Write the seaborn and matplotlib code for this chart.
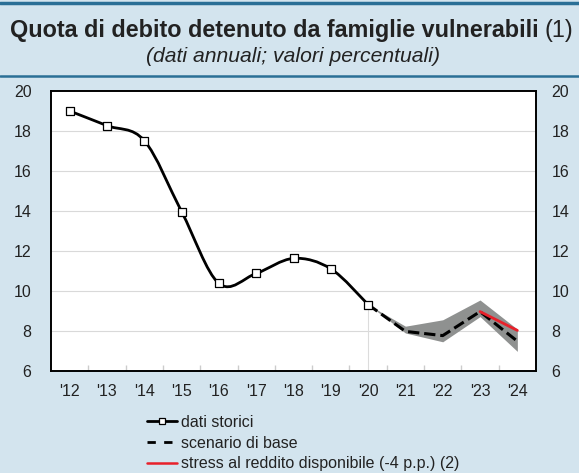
import numpy as np
import pandas as pd
import seaborn as sns
import matplotlib.pyplot as plt
from matplotlib.path import Path
from matplotlib.patches import PathPatch
from matplotlib.lines import Line2D

years = ["'12", "'13", "'14", "'15", "'16", "'17", "'18", "'19", "'20", "'21", "'22", "'23", "'24"]
storici = [19.0, 18.27, 17.52, 13.97, 10.38, 10.88, 11.63, 11.11, 9.32]
base = [9.32, 7.98, 7.77, 8.97, 7.49]
band_low = [9.32, 7.90, 7.46, 8.72, 6.98]
band_high = [9.32, 8.24, 8.56, 9.55, 8.09]
stress = [8.97, 8.03]

bg = '#d3e4ee'
sns.set_theme(style='white')
plt.rcParams['font.family'] = ['Liberation Sans', 'DejaVu Sans']

fig = plt.figure(figsize=(5.79, 4.73), dpi=100, facecolor=bg)
ax = fig.add_axes([51/579, 1-371/473, (536-51)/579, (371-91)/473])
ax.set_facecolor('white')

x_hist = np.arange(len(storici))
x_fut = np.arange(len(storici)-1, len(years))

# smoothed historical line (bezier through the data points)
pts = np.column_stack([x_hist, storici])
verts = [pts[0]]
codes = [Path.MOVETO]
for i in range(len(pts)-1):
    p0 = pts[max(i-1, 0)]
    p1 = pts[i]
    p2 = pts[i+1]
    p3 = pts[min(i+2, len(pts)-1)]
    verts += [p1 + (p2-p0)/6, p2 - (p3-p1)/6, p2]
    codes += [Path.CURVE4]*3
ax.add_patch(PathPatch(Path(verts, codes), fill=False, lw=2, color='black', zorder=4))

ax.fill_between(x_fut, band_low, band_high, color='#8f9190', lw=0, zorder=2)
sns.lineplot(x=x_fut, y=base, ax=ax, color='black', lw=2.2, dashes=(4, 3), linestyle='--', zorder=3)
sns.lineplot(x=x_fut[-2:], y=stress, ax=ax, color='#e8202a', lw=2, zorder=3)
sns.scatterplot(x=x_hist, y=storici, ax=ax, marker='s', s=26, facecolor='white',
                edgecolor='black', linewidth=0.9, zorder=5)

ax.vlines(8, 6, storici[-1], color='#dcdcdc', lw=0.8, zorder=1)
for yv in range(8, 20, 2):
    ax.axhline(yv, color='#d9d9d9', lw=0.8, zorder=0)

ax.set_xlim(-0.5, 12.5)
ax.set_ylim(6, 20)
ax.set_xticks(range(len(years)))
ax.set_xticklabels(years)
ax.set_xticks(np.arange(0.5, 12, 1), minor=True)
ax.set_yticks(range(6, 21, 2))
ax.tick_params(axis='x', which='major', length=0, labelsize=11.5, pad=9, colors='#222222')
ax.tick_params(axis='x', which='minor', length=4, direction='in', color='#cccccc', bottom=True)
ax.tick_params(axis='y', length=0, labelsize=11.5, pad=14, colors='#222222')
ax2 = ax.twinx()
ax2.set_ylim(6, 20)
ax2.set_yticks(range(6, 21, 2))
ax2.tick_params(axis='y', length=0, labelsize=11.5, pad=11, colors='#222222')
for a in (ax, ax2):
    for s in a.spines.values():
        s.set_color('black')
        s.set_linewidth(1.2)
ax.set_xlabel('')
ax.set_ylabel('')

# header
fig.add_artist(Line2D([0, 1], [1-3/473, 1-3/473], color='#2a6f96', lw=2.5))
fig.add_artist(Line2D([0, 1], [1-76/473, 1-76/473], color='#2a6f96', lw=1.8))
t1 = fig.text(0, 1-31/473, 'Quota di debito detenuto da famiglie vulnerabili ', ha='left',
              va='center', fontsize=16.8, fontweight='bold', color='#222222')
t2 = fig.text(0, 1-31/473, '(1)', ha='left', va='center', fontsize=16.8, color='#222222')
fig.canvas.draw()
r = fig.canvas.get_renderer()
w1 = t1.get_window_extent(r).width
w2 = t2.get_window_extent(r).width
x0 = (579 - w1 - w2) / 2 + 2
t1.set_x(x0/579)
t2.set_x((x0 + w1)/579)
fig.text(0.5 + 3/579, 1-56/473, '(dati annuali; valori percentuali)', ha='center', va='center',
         fontsize=15.2, style='italic', color='#222222')

handles = [
    Line2D([], [], color='black', lw=2, marker='s', markersize=5, markerfacecolor='white',
           markeredgecolor='black', markeredgewidth=0.9),
    Line2D([], [], color='black', lw=2, dashes=(3, 3)),
    Line2D([], [], color='#e8202a', lw=1.8),
]
labels = ['dati storici', 'scenario di base', 'stress al reddito disponibile (-4 p.p.) (2)']
fig.legend(handles, labels, loc='upper left', bbox_to_anchor=(147/579, 1-415/473),
           frameon=False, fontsize=11.5, handlelength=1.9, handletextpad=0.2,
           labelspacing=0.35, borderpad=0, borderaxespad=0, labelcolor='#222222')

fig.savefig('out.png', dpi=100, facecolor=bg)
